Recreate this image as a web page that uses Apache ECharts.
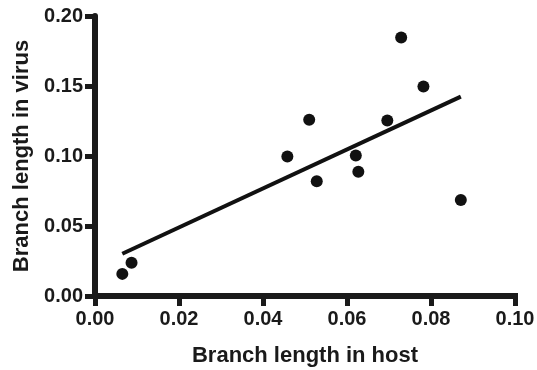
<!DOCTYPE html>
<html>
<head>
<meta charset="utf-8">
<script src="https://cdn.jsdelivr.net/npm/echarts@6/dist/echarts.min.js"></script>
<style>
  html, body { margin: 0; padding: 0; background: #fff; }
  #chart { width: 537px; height: 370px; }
</style>
</head>
<body>
<div id="chart"></div>
<script>
// branch lengths
const hostLengths = [0.0065, 0.0087, 0.0458, 0.0510, 0.0528, 0.0621, 0.0627, 0.0696, 0.0729, 0.0782, 0.0871];
const virusLengths = [0.0158, 0.0237, 0.0997, 0.1259, 0.0819, 0.1004, 0.0888, 0.1254, 0.1846, 0.1497, 0.0686];

const xTicks = {min: 0, max: 0.10, interval: 0.02};
const yTicks = {min: 0, max: 0.20, interval: 0.05};

// least squares fit, drawn across the range of the data
function fitLine(xs, ys) {
  const n = xs.length;
  const mx = xs.reduce((a, b) => a + b, 0) / n;
  const my = ys.reduce((a, b) => a + b, 0) / n;
  let sxy = 0, sxx = 0;
  for (let i = 0; i < n; i++) {
    sxy += (xs[i] - mx) * (ys[i] - my);
    sxx += (xs[i] - mx) * (xs[i] - mx);
  }
  const slope = sxy / sxx;
  const x0 = Math.min(...xs), x1 = Math.max(...xs);
  return [[x0, my + slope * (x0 - mx)], [x1, my + slope * (x1 - mx)]];
}

const ink = '#1a1a1a';
const font = 'Liberation Sans, Arial, sans-serif';

const chart = echarts.init(document.getElementById('chart'));
chart.setOption({
  animation: false,
  grid: {left: 95, right: 22, top: 16, bottom: 74, outerBoundsMode: 'none', containLabel: false},
  xAxis: {
    type: 'value',
    ...xTicks,
    name: 'Branch length in host',
    nameLocation: 'middle',
    nameGap: 49,
    nameTextStyle: {color: ink, fontSize: 22, fontWeight: 'bold', fontFamily: font},
    splitLine: {show: false},
    axisLine: {show: true, lineStyle: {color: ink, width: 6, opacity: 1, cap: 'square'}},
    axisTick: {show: true, length: 10, lineStyle: {color: ink, width: 5, opacity: 1}},
    axisLabel: {
      color: ink, fontSize: 20, fontWeight: 'bold', fontFamily: font, margin: 13,
      formatter: v => v.toFixed(2)
    }
  },
  yAxis: {
    type: 'value',
    ...yTicks,
    name: 'Branch length in virus',
    nameLocation: 'middle',
    nameGap: 54,
    nameTextStyle: {color: ink, fontSize: 22, fontWeight: 'bold', fontFamily: font},
    splitLine: {show: false},
    axisLine: {show: true, lineStyle: {color: ink, width: 6, opacity: 1}},
    axisTick: {show: true, length: 10, lineStyle: {color: ink, width: 5, opacity: 1}},
    axisLabel: {
      color: ink, fontSize: 20, fontWeight: 'bold', fontFamily: font, margin: 12,
      formatter: v => v.toFixed(2)
    }
  },
  series: [
    {
      type: 'scatter',
      data: hostLengths.map((x, i) => [x, virusLengths[i]]),
      symbolSize: 12,
      itemStyle: {color: '#111', opacity: 1}
    },
    {
      type: 'line',
      data: fitLine(hostLengths, virusLengths),
      symbol: 'none',
      lineStyle: {color: '#111', width: 4, opacity: 1}
    }
  ]
});
</script>
</body>
</html>
